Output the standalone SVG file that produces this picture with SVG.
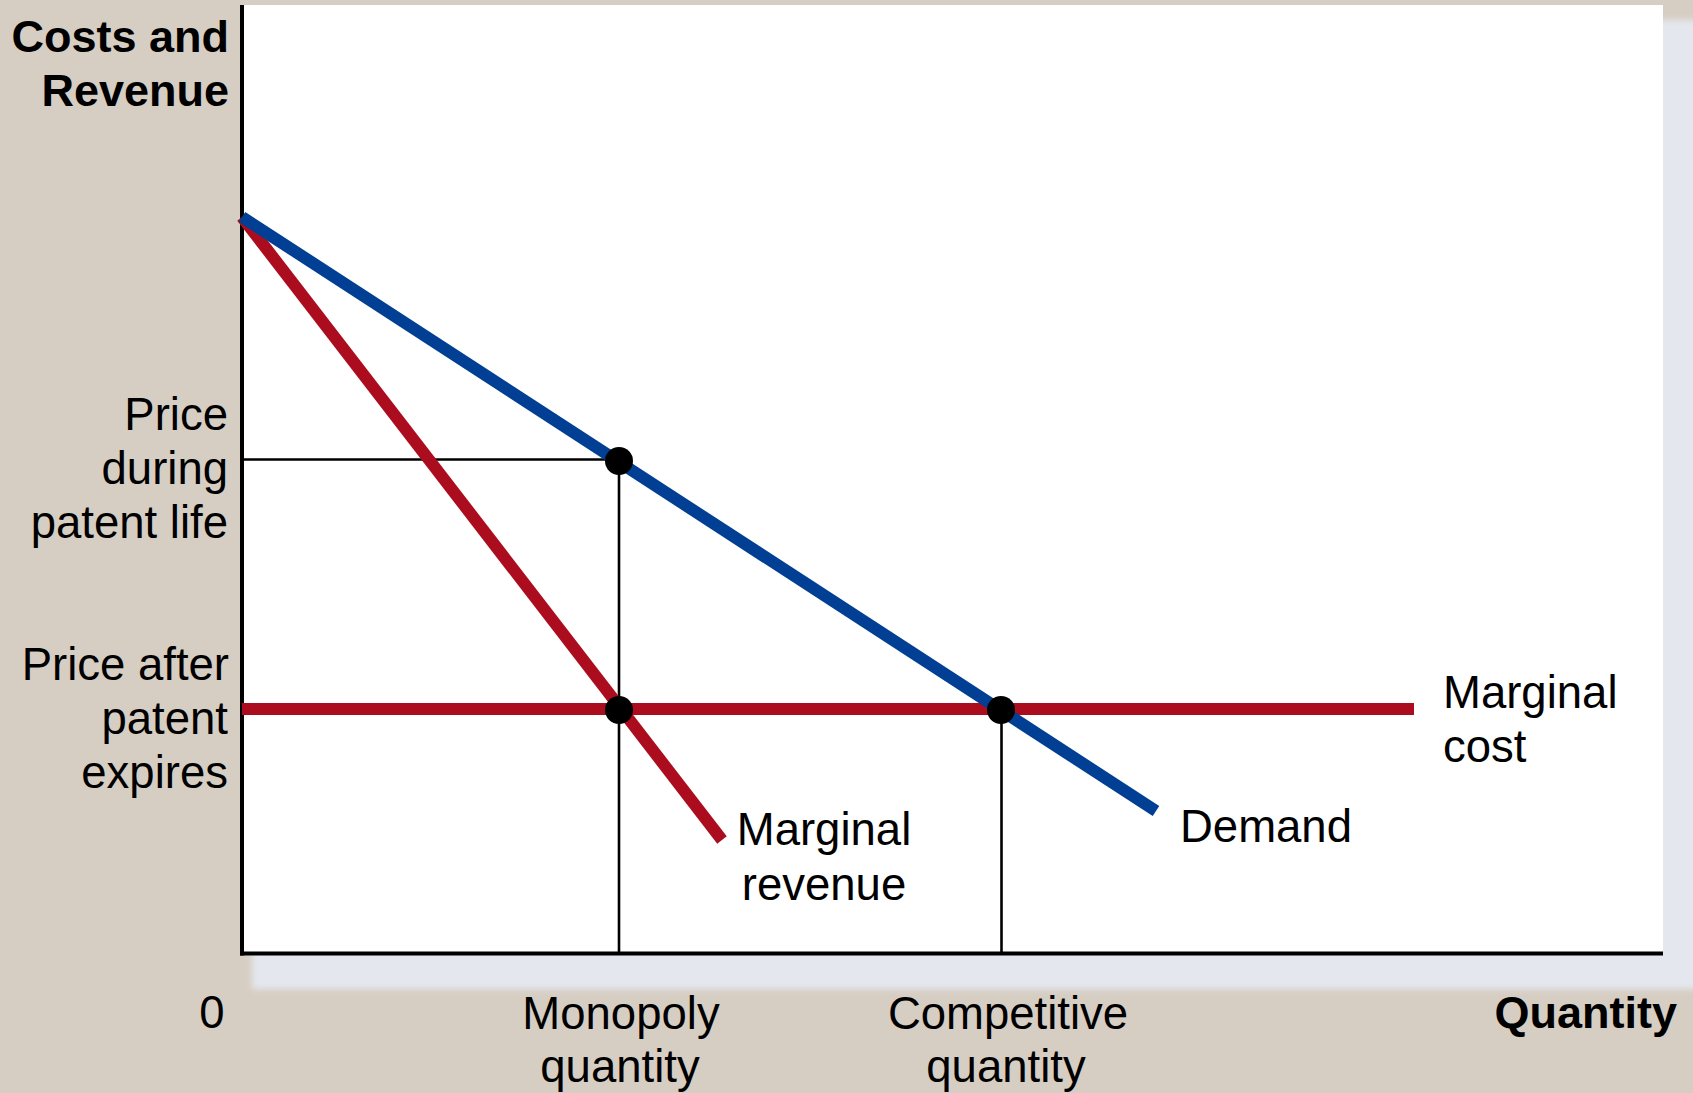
<svg xmlns="http://www.w3.org/2000/svg" width="1693" height="1093" viewBox="0 0 1693 1093">
  <style>
    .lbl { font-family: "Liberation Sans", Arial, sans-serif; font-size: 45.5px; fill: #000; }
    .bold { font-family: "Liberation Sans", Arial, sans-serif; font-size: 45px; font-weight: bold; fill: #000; }
    .end { text-anchor: end; }
    .mid { text-anchor: middle; }
    .red { stroke: #ab0d1e; stroke-width: 12; fill: none; stroke-linecap: butt; }
    .blue { stroke: #003f93; stroke-width: 12; fill: none; stroke-linecap: butt; }
    .guide { stroke: #000; stroke-width: 2.6; fill: none; }
    .axis { stroke: #000; stroke-width: 4; fill: none; }
    .dot { fill: #000; }
  </style>
  <defs>
    <filter id="soft" x="-5%" y="-5%" width="110%" height="110%">
      <feGaussianBlur stdDeviation="3"/>
    </filter>
  </defs>

  <g id="background">
    <rect x="0" y="0" width="1693" height="1093" fill="#d6cec3"/>
    <rect x="252" y="20" width="1460" height="969" fill="#e4e7ee" filter="url(#soft)"/>
    <rect x="242" y="5" width="1421" height="948" fill="#ffffff"/>
  </g>

  <g id="axes">
    <line class="axis" x1="242" y1="5" x2="242" y2="955.5"/>
    <line class="axis" x1="240" y1="953.5" x2="1663" y2="953.5"/>
  </g>

  <g id="connectors">
    <line class="guide" x1="242" y1="459.5" x2="619" y2="459.5"/>
    <line class="guide" x1="619" y1="459.5" x2="619" y2="953"/>
    <line class="guide" x1="1001.5" y1="709" x2="1001.5" y2="953"/>
    <line id="marginal-cost-curve" class="red" x1="242" y1="709" x2="1414" y2="709"/>
    <line id="marginal-revenue-curve" class="red" x1="242" y1="217" x2="722" y2="840"/>
    <line id="demand-curve" class="blue" x1="242" y1="217" x2="1156" y2="811"/>
  </g>

  <g id="point-monopoly-price">
    <circle class="dot" cx="619" cy="461" r="14"/>
  </g>
  <g id="point-monopoly-quantity">
    <circle class="dot" cx="619" cy="710" r="14"/>
  </g>
  <g id="point-competitive">
    <circle class="dot" cx="1001" cy="710" r="14"/>
  </g>

  <g id="label-y-axis">
    <text class="bold end" x="229" y="52">Costs and</text>
    <text class="bold end" x="229" y="106">Revenue</text>
  </g>
  <g id="label-price-during">
    <text class="lbl end" x="228" y="430">Price</text>
    <text class="lbl end" x="228" y="484">during</text>
    <text class="lbl end" x="228" y="538">patent life</text>
  </g>
  <g id="label-price-after">
    <text class="lbl end" x="229" y="680">Price after</text>
    <text class="lbl end" x="228" y="734">patent</text>
    <text class="lbl end" x="228" y="788">expires</text>
  </g>
  <g id="label-zero">
    <text class="lbl mid" x="212" y="1028">0</text>
  </g>
  <g id="label-monopoly-quantity">
    <text class="lbl mid" x="621" y="1029">Monopoly</text>
    <text class="lbl mid" x="620" y="1082">quantity</text>
  </g>
  <g id="label-competitive-quantity">
    <text class="lbl mid" x="1008" y="1029">Competitive</text>
    <text class="lbl mid" x="1006" y="1082">quantity</text>
  </g>
  <g id="label-x-axis">
    <text class="bold end" x="1677" y="1028">Quantity</text>
  </g>
  <g id="label-marginal-cost">
    <text class="lbl" x="1443" y="708">Marginal</text>
    <text class="lbl" x="1443" y="762">cost</text>
  </g>
  <g id="label-demand">
    <text class="lbl" x="1180" y="842">Demand</text>
  </g>
  <g id="label-marginal-revenue">
    <text class="lbl mid" x="824" y="845">Marginal</text>
    <text class="lbl mid" x="824" y="900">revenue</text>
  </g>
</svg>
